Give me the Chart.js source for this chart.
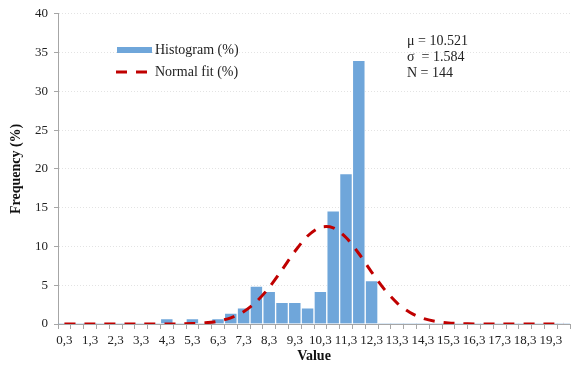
<!DOCTYPE html>
<html><head><meta charset="utf-8">
<script src="https://cdn.jsdelivr.net/npm/chart.js@4/dist/chart.umd.min.js"></script>
<style>html,body{margin:0;padding:0;background:#fff}canvas{display:block}</style>
</head><body>
<canvas id="c" width="571" height="365"></canvas>
<script>
const categories = ['0,3','0,8','1,3','1,8','2,3','2,8','3,3','3,8','4,3','4,8',
  '5,3','5,8','6,3','6,8','7,3','7,8','8,3','8,8','9,3','9,8',
  '10,3','10,8','11,3','11,8','12,3','12,8','13,3','13,8','14,3','14,8',
  '15,3','15,8','16,3','16,8','17,3','17,8','18,3','18,8','19,3','19,8'];
const histogram = [0,0,0,0,0,0,0,0,0.7,0,
  0.7,0,0.7,1.4,2.1,4.9,4.2,2.8,2.8,2.1,
  4.2,14.6,19.4,34.0,5.6,0,0,0,0,0,
  0,0,0,0,0,0,0,0,0,0];
const normalFit = [0,0,0,0,0,0,0,0,0.01,0.02,
  0.06,0.15,0.36,0.80,1.59,2.88,4.71,6.98,9.35,11.35,
  12.47,12.40,11.16,9.09,6.70,4.47,2.70,1.48,0.73,0.33,
  0.13,0.05,0.01,0,0,0,0,0,0,0];
const yTicks = [0,5,10,15,20,25,30,35,40];
const statsLines = ['\u03bc = 10.521','\u03c3  = 1.584','N = 144'];
const legendLabels = ['Histogram (%)','Normal fit (%)'];

const FONT = "'Liberation Serif', 'Times New Roman', serif";
const BAR_COLOR = '#6FA6DA';
const LINE_COLOR = '#C00000';

const overlay = {
  id: 'overlay',
  afterDraw(chart) {
    const ctx = chart.ctx;
    ctx.save();
    ctx.font = '14px ' + FONT;
    ctx.textBaseline = 'middle';
    ctx.textAlign = 'left';
    // legend
    ctx.fillStyle = BAR_COLOR;
    ctx.fillRect(117, 47, 35, 6);
    ctx.fillStyle = '#222';
    ctx.fillText(legendLabels[0], 155, 50);
    ctx.strokeStyle = LINE_COLOR;
    ctx.lineWidth = 3;
    ctx.setLineDash([11, 9]);
    ctx.beginPath();
    ctx.moveTo(116, 72); ctx.lineTo(148, 72);
    ctx.stroke();
    ctx.setLineDash([]);
    ctx.fillText(legendLabels[1], 155, 72);
    // stats
    statsLines.forEach((s, i) => ctx.fillText(s, 407, 41 + i * 16));
    ctx.restore();
  }
};

new Chart(document.getElementById('c'), {
  data: {
    labels: categories,
    datasets: [
      {
        type: 'line', label: legendLabels[1], data: normalFit,
        borderColor: LINE_COLOR, borderWidth: 3, borderDash: [11, 9],
        pointRadius: 0, tension: 0.3, fill: false
      },
      {
        type: 'bar', label: legendLabels[0], data: histogram,
        backgroundColor: BAR_COLOR, borderColor: '#ffffff',
        borderWidth: ctx => (ctx.raw > 0 ? 1 : 0),
        barPercentage: 1, categoryPercentage: 1
      }
    ]
  },
  options: {
    responsive: false, animation: false,
    layout: { padding: { top: 10, right: 1, left: 0, bottom: 0 } },
    plugins: { legend: { display: false }, tooltip: { enabled: false } },
    scales: {
      x: {
        type: 'category', offset: true,
        grid: { display: true, drawOnChartArea: false, offset: true, tickLength: 5, color: '#a6a6a6' },
        border: { color: '#a6a6a6' },
        ticks: {
          autoSkip: false, maxRotation: 0, minRotation: 0, padding: 4,
          color: '#222', font: { family: FONT, size: 13 },
          callback: (v, i) => (i % 2 === 0 ? categories[i] : '')
        },
        title: { display: true, text: 'Value', color: '#111', font: { family: FONT, size: 14, weight: 'bold' }, padding: { top: 0, bottom: 0 } },
        afterFit: s => { s.height = 41; }
      },
      y: {
        min: 0, max: 40,
        afterBuildTicks: s => { s.ticks = yTicks.map(v => ({ value: v })); },
        grid: { color: '#e3e3e3', tickLength: 4, tickColor: '#a6a6a6', tickBorderDash: [] },
        border: { color: '#a6a6a6', dash: [1, 2] },
        ticks: { color: '#222', padding: 6, font: { family: FONT, size: 13 } },
        title: { display: true, text: 'Frequency (%)', color: '#111', font: { family: FONT, size: 14, weight: 'bold' }, padding: { top: 8, bottom: 0 } },
        afterFit: s => { s.width = 58; }
      }
    }
  },
  plugins: [overlay]
});
</script>
</body></html>
